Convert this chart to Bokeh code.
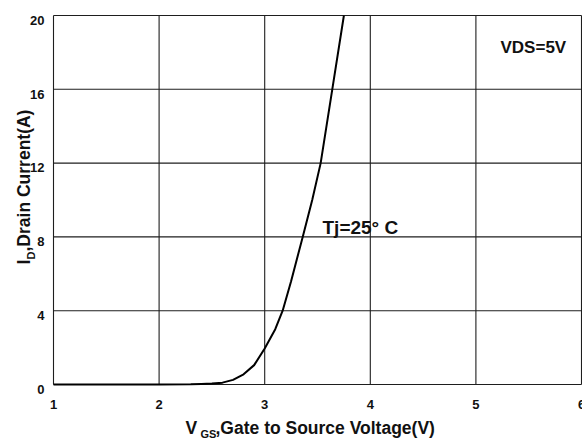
import math
from bokeh.plotting import figure
from bokeh.models import Label, Range1d
from bokeh.core.properties import value
from bokeh.embed import file_html
from bokeh.resources import INLINE

# ---- data ----
vgs = [1.0, 2.0, 2.3, 2.4, 2.5, 2.6, 2.7, 2.8, 2.9, 3.0, 3.1, 3.17, 3.25, 3.36, 3.45, 3.53, 3.64, 3.75]
i_d = [0.0, 0.0, 0.01, 0.03, 0.05, 0.1, 0.25, 0.55, 1.05, 1.95, 3.0, 4.0, 5.6, 8.0, 10.0, 12.0, 16.0, 20.0]
x_ticks = [1, 2, 3, 4, 5, 6]
y_ticks = [0, 4, 8, 12, 16, 20]

FONT = "Liberation Sans"
W, H = 582, 439
# chart box in canvas pixels
PL, PR, PT, PB = 53, 581, 15, 384
X0, X1, Y0, Y1 = x_ticks[0], x_ticks[-1], y_ticks[0], y_ticks[-1]
sx = (PR - PL) / (X1 - X0)
sy = (PB - PT) / (Y1 - Y0)

def dx(px):
    return X0 + (px - PL) / sx
def dy(py):
    return Y0 + (PB - py) / sy

p = figure(width=W, height=H, output_backend="svg", toolbar_location=None,
           x_range=Range1d(dx(0), dx(W)), y_range=Range1d(dy(H), dy(0)),
           x_axis_type=None, y_axis_type=None,
           min_border_left=0, min_border_right=0, min_border_top=0, min_border_bottom=0)
p.outline_line_color = None
p.background_fill_color = "white"
p.border_fill_color = "white"

# grid lines (also forming the chart box), drawn from the tick arrays
GRID = "#1e1e1e"
p.segment(x0=x_ticks, y0=[Y0] * len(x_ticks), x1=x_ticks, y1=[Y1] * len(x_ticks),
          line_color=GRID, line_width=1.1)
p.segment(x0=[X0] * len(y_ticks), y0=y_ticks, x1=[X1] * len(y_ticks), y1=y_ticks,
          line_color=GRID, line_width=1.1)

p.line(vgs, i_d, line_color="black", line_width=2)

# tick labels
p.text(x=x_ticks, y=[dy(403.5)] * len(x_ticks), text=[str(t) for t in x_ticks],
       text_font=value(FONT), text_font_style="bold", text_font_size="13px",
       text_color="#111111", text_align="center", text_baseline="alphabetic")
p.text(x=[dx(44)] * len(y_ticks), y=[t - 4.7 / sy for t in y_ticks], text=[str(t) for t in y_ticks],
       text_font=value(FONT), text_font_style="bold", text_font_size="13px",
       text_color="#111111", text_align="right", text_baseline="alphabetic")

def lab(x, y, t, size, angle=0):
    p.add_layout(Label(x=x, y=y, text=t, text_font=FONT, text_font_style="bold",
                       text_font_size=size, text_color="#111111", angle=angle,
                       text_align="left", text_baseline="alphabetic"))

# annotations inside the plot
lab(dx(322), dy(227), "Tj=25° C", "19px")
lab(dx(500), dy(47), "VDS=5V", "17px")

# x axis title with subscript
lab(dx(185), dy(427), "V", "17.5px")
lab(dx(200), dy(433), "GS", "11px")
lab(dx(215), dy(427), ",Gate to Source Voltage(V)", "17.5px")

# y axis title (rotated) with subscript
lab(dx(23), dy(264), "I", "17.5px", math.pi / 2)
lab(dx(30), dy(259), "D", "11px", math.pi / 2)
lab(dx(23), dy(251), ",Drain Current(A)", "17.5px", math.pi / 2)

open("out.html", "w").write(file_html(p, INLINE))
